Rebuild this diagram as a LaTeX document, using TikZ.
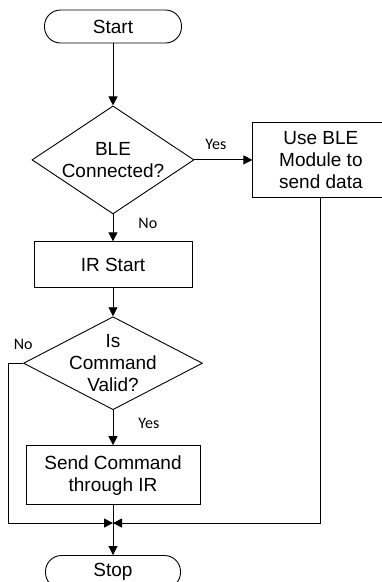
\documentclass[tikz,border=0pt]{standalone}
\usepackage{fontspec}
\setmainfont{Liberation Sans}
\newfontfamily\lblfont{Carlito}
\usetikzlibrary{arrows.meta,positioning,calc,shapes.geometric}

\begin{document}
\begin{tikzpicture}[
  font=\fontsize{19}{22}\selectfont,
  line width=0.9pt,
  term/.style={draw, rounded corners=16pt, minimum width=137pt, minimum height=33pt, inner sep=0pt},
  proc/.style={draw, align=center, inner sep=0pt},
  dec/.style={draw, diamond, align=center, inner sep=-20pt},
  arr/.style={-{Triangle[length=9pt,width=9pt]}},
  lbl/.style={font=\lblfont\fontsize{16}{18}\selectfont, inner sep=0pt}
]
  \useasboundingbox (0,0) rectangle (381pt,-582pt);

  % Main column
  \node[term] (start) at (113pt,-26.5pt) {Start};
  \node[dec, minimum width=162pt, minimum height=108pt, below=62pt of start] (ble) {BLE\\Connected?};
  \node[proc, minimum width=136pt, minimum height=75pt, right=58pt of ble] (bleuse) {Use BLE\\Module to\\send data};
  \node[proc, minimum width=158pt, minimum height=46pt, below=27pt of ble] (ir) {IR Start};
  \node[dec, minimum width=179pt, minimum height=93pt, below=28pt of ir] (valid) {Is\\Command\\Valid?};
  \node[proc, minimum width=174pt, minimum height=59pt, below=35pt of valid] (send) {Send Command\\through IR};
  \node[term, minimum width=135pt, below=50pt of send] (stop) {Stop};

  % Join point above Stop
  \coordinate (join) at ($(send.south)+(0,-18pt)$);

  % Connectors
  \draw[arr] (start) -- (ble);
  \draw[arr] (ble.east) -- node[lbl, above=10pt, pos=0.37] (yes1) {Yes} (bleuse.west);
  \draw[arr] (ble.south) -- node[lbl, right=25pt, pos=0.33] (no1) {No} (ir.north);
  \draw[arr] (ir) -- (valid);
  \draw[arr] (valid.south) -- node[lbl, right=25pt, pos=0.37] (yes2) {Yes} (send.north);
  \node[lbl, above left=13pt and -10pt of valid.west] (no2) {No};

  \draw[arr] (valid.west) -- ++(-15pt,0) |- (join);
  \draw[arr] (bleuse.south) |- (join);
  \draw (send.south) -- (join);
  \draw[arr] (join) -- (stop.north);
\end{tikzpicture}
\end{document}
